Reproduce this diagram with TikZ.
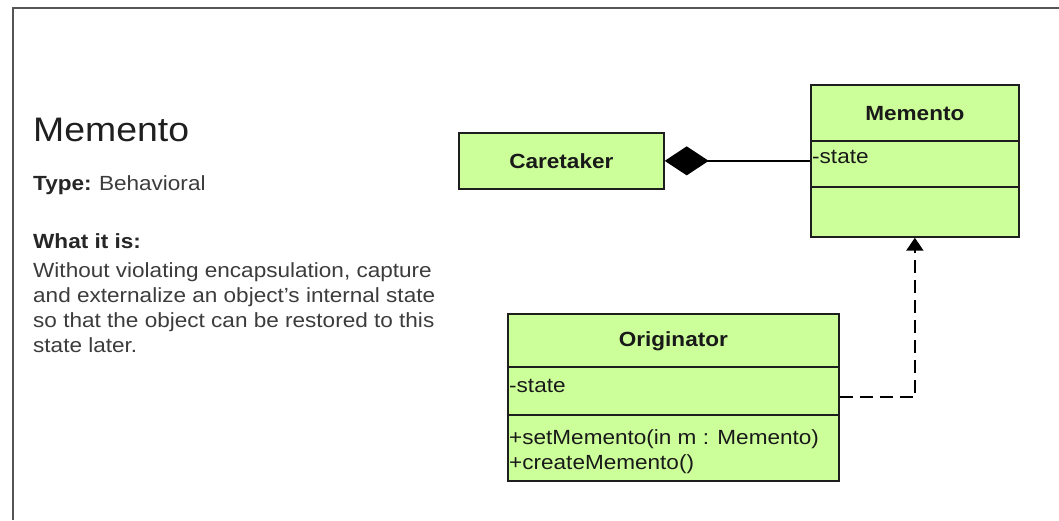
\documentclass[tikz,border=0pt]{standalone}
\usepackage{fontspec}
\setmainfont[FakeStretch=1.1]{Liberation Sans}
\usetikzlibrary{arrows.meta}
\definecolor{umlfill}{RGB}{204,255,153}
\definecolor{umlline}{RGB}{30,30,30}
\definecolor{txtgray}{RGB}{60,60,60}
\definecolor{framegray}{RGB}{85,85,85}
\tikzset{
  cls/.style={draw=umlline, fill=umlfill, line width=1.7pt, rectangle, inner sep=0pt, anchor=north west},
  divider/.style={draw=umlline, line width=1.5pt},
  clsname/.style={font=\fontsize{20.5}{25}\selectfont\bfseries, text=black!90, inner sep=0pt, anchor=base},
  clsitem/.style={font=\fontsize{20.5}{25}\selectfont, text=black!90, inner sep=0pt, anchor=base west},
  bodytxt/.style={font=\fontsize{20.5}{25}\selectfont, text=txtgray, inner sep=0pt, anchor=base west},
  titletxt/.style={font=\fontsize{34}{40}\selectfont, text=black!88, inner sep=0pt, anchor=base west},
  comp/.style={line width=2pt, draw=black, {Diamond[length=44pt,width=29pt]}-},
  dep/.style={line width=2.2pt, draw=black, dash pattern=on 13pt off 7pt, -{Triangle[length=13pt,width=17pt]}},
  frameline/.style={draw=framegray, line width=1.5pt}
}
\begin{document}
\begin{tikzpicture}[x=1pt,y=-1pt]
\useasboundingbox[fill=white] (0,0) rectangle (1059,520);
\draw[frameline] (13,520) -- (13,8) -- (1059,8);

% left description
\node[titletxt] (title) at (33,141) {Memento};
\node[bodytxt] (type) at (33,190) {\textbf{\color{black!85}Type:}\hspace{-1pt} Behavioral};
\node[bodytxt, font=\fontsize{20.5}{25}\selectfont\bfseries, text=black!85] (whatis) at (33,248) {What it is:};
\node[bodytxt] (d1) at (33,277) {Without violating encapsulation, capture};
\node[bodytxt] (d2) at (33,302) {and externalize an object's internal state};
\node[bodytxt] (d3) at (33,327) {so that the object can be restored to this};
\node[bodytxt] (d4) at (33,352) {state later.};

% Memento class
\node[cls, minimum width=208pt, minimum height=152pt] (memento) at (810,84) {};
\draw[divider] ([yshift=-57pt]memento.north west) -- ([yshift=-57pt]memento.north east);
\draw[divider] ([yshift=-103pt]memento.north west) -- ([yshift=-103pt]memento.north east);
\node[clsname] (mname) at ([yshift=-36pt]memento.north) {Memento};
\node[clsitem] (mstate) at ([xshift=2pt,yshift=-79pt]memento.north west) {-state};

% Caretaker class
\node[cls, minimum width=205pt, minimum height=56pt] (caretaker) at (458,132) {};
\node[clsname] (cname) at ([yshift=-36pt]caretaker.north) {Caretaker};

% Originator class
\node[cls, minimum width=331pt, minimum height=167pt] (orig) at (507,313) {};
\draw[divider] ([yshift=-54pt]orig.north west) -- ([yshift=-54pt]orig.north east);
\draw[divider] ([yshift=-102pt]orig.north west) -- ([yshift=-102pt]orig.north east);
\node[clsname] (oname) at ([yshift=-33pt]orig.north) {Originator};
\node[clsitem] (ostate) at ([xshift=2pt,yshift=-79pt]orig.north west) {-state};
\node[clsitem] (oset) at ([xshift=2pt,yshift=-131pt]orig.north west) {+setMemento(in m : Memento)};
\node[clsitem] (ocreate) at ([xshift=2pt,yshift=-156pt]orig.north west) {+createMemento()};

% connectors
\draw[comp] (caretaker.east) -- (caretaker.east -| memento.west);
\draw[dep] (orig.east) -| (memento.south);
\end{tikzpicture}
\end{document}
